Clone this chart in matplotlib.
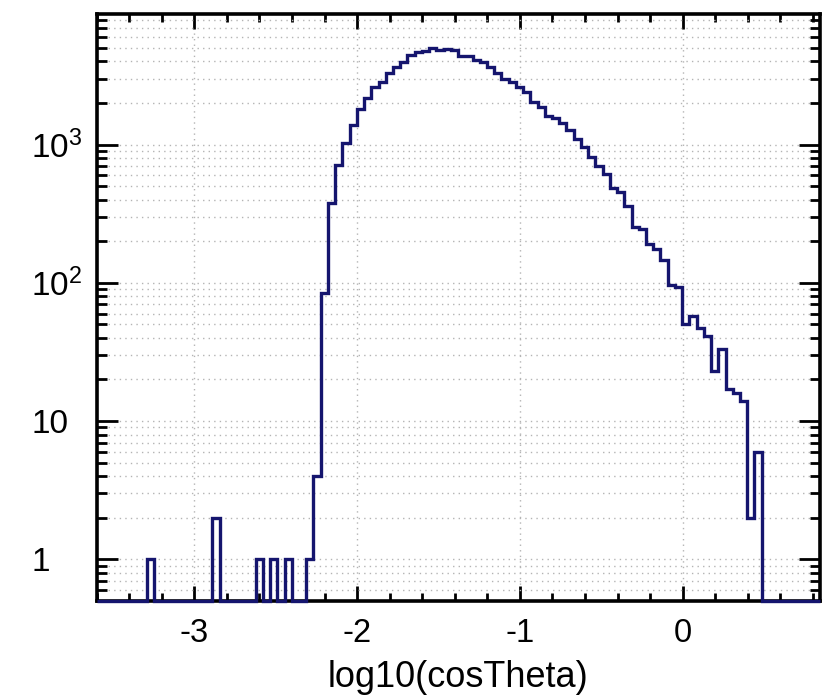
import numpy as np
import matplotlib
matplotlib.use("Agg")
import matplotlib.pyplot as plt
from matplotlib.ticker import MultipleLocator, FixedLocator, LogLocator, NullFormatter

plt.rcParams['font.family'] = ['Liberation Sans', 'DejaVu Sans']
plt.rcParams['mathtext.fontset'] = 'custom'
plt.rcParams['mathtext.rm'] = 'Liberation Sans'
plt.rcParams['mathtext.it'] = 'Liberation Sans'
plt.rcParams['axes.unicode_minus'] = False

# histogram: 100 bins of log10(cosTheta)
x_lo, x_hi, n_bins = -3.6, 0.84, 100
counts = [
    0, 0, 0, 0, 0, 0, 0, 1, 0, 0,
    0, 0, 0, 0, 0, 0, 2, 0, 0, 0,
    0, 0, 1, 0, 1, 0, 1, 0, 0, 1,
    4, 85, 378, 706, 1025, 1383, 1805, 2168, 2602, 2858,
    3320, 3631, 3963, 4478, 4660, 4786, 5003, 4819, 4922, 4819,
    4404, 4404, 4080, 3947, 3620, 3286, 2987, 2858, 2602, 2393,
    2048, 1884, 1614, 1553, 1429, 1265, 1102, 959, 812, 695,
    612, 485, 454, 359, 252, 246, 191, 176, 146, 97,
    93, 50, 58, 47, 41, 23, 33, 17, 16, 14,
    2, 6, 0, 0, 0, 0, 0, 0, 0, 0,
]
y_ticks = [1, 10, 100, 1000]
y_tick_labels = ['1', '10', '$10^{2}$', '$10^{3}$']
x_label = 'log10(cosTheta)'

y_lo, y_hi = 0.5, 8800
line_col = '#15156e'
grid_col = '#b4b4b4'

edges = np.linspace(x_lo, x_hi, n_bins + 1)
vals = np.array(counts, dtype=float)
vals = np.where(vals > 0, vals, y_lo)   # empty bins sit on the floor like ROOT

fig = plt.figure(figsize=(8.33, 6.96), dpi=100)
ax = fig.add_axes([0.116, 0.1365, 0.8678, 0.8434])

ax.stairs(vals, edges, baseline=None, color=line_col, linewidth=2.4,
          zorder=3, clip_on=False)

ax.set_yscale('log')
ax.set_xlim(x_lo, x_hi)
ax.set_ylim(y_lo, y_hi)

ax.xaxis.set_major_locator(MultipleLocator(1))
ax.xaxis.set_minor_locator(MultipleLocator(0.2))
ax.yaxis.set_major_locator(FixedLocator(y_ticks))
ax.set_yticklabels(y_tick_labels)
ax.yaxis.set_minor_locator(LogLocator(base=10, subs=np.arange(2, 10)))
ax.yaxis.set_minor_formatter(NullFormatter())

dots = (0, (1, 3))
ax.grid(which='major', axis='x', linestyle=dots, color=grid_col, linewidth=1.0)
ax.grid(which='both', axis='y', linestyle=dots, color=grid_col, linewidth=1.0)
ax.set_axisbelow(True)

for s in ax.spines.values():
    s.set_linewidth(2.6)

ax.tick_params(axis='both', which='both', direction='in', top=True, right=True, width=2.0)
ax.tick_params(axis='x', which='major', length=11, labelsize=23.5, pad=12)
ax.tick_params(axis='x', which='minor', length=5.5)
ax.tick_params(axis='y', which='major', length=15, labelsize=24, pad=47)
ax.tick_params(axis='y', which='minor', length=7.5)
for lab in ax.get_yticklabels():
    lab.set_horizontalalignment('left')

ax.set_xlabel(x_label, fontsize=26, labelpad=8)

fig.savefig('out.png', dpi=100)
